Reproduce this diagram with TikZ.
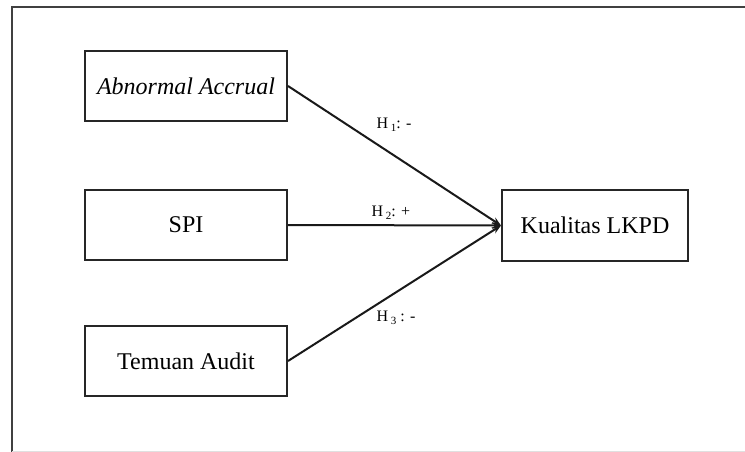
\documentclass[tikz,border=0pt]{standalone}
\usepackage{fontspec}
\setmainfont{Liberation Serif}
\usetikzlibrary{arrows.meta}
\newcommand{\hsub}[1]{\,\raisebox{-2.5pt}{\fontsize{11}{12}\selectfont #1}}
\begin{document}
\begin{tikzpicture}[x=1pt,y=-1pt,
  box/.style={draw=black!85, line width=2pt, minimum width=202pt, minimum height=70pt, inner sep=0pt, font=\fontsize{24}{28}\selectfont},
  link/.style={line width=2pt, draw=black!90, -{Stealth[length=9pt,width=7pt]}},
  hlab/.style={font=\fontsize{16}{19}\selectfont, inner sep=1pt}]
\useasboundingbox (0,0) rectangle (745,452);
\draw[line width=2pt, black!75] (760,7) -- (12,7) -- (12,460);
\draw[line width=1pt, black!12] (12,451.5) -- (760,451.5);
\node[box] (aa) at (186,86) {\itshape Abnormal Accrual};
\node[box] (spi) at (186,225) {SPI};
\node[box] (ta) at (186,361) {Temuan Audit};
\node[box, minimum width=186pt, minimum height=71pt] (kl) at (595,225.5) {Kualitas LKPD};
\coordinate (m) at (kl.west);
\draw[link] (aa.east) -- (m);
\draw[link] (spi.east) -- (m);
\draw[link] (ta.east) -- (m);
\node[hlab] (h1) at (394,125) {H\hsub{1}: -};
\node[hlab] (h2) at (391,213) {H\hsub{2}: +};
\node[hlab] (h3) at (396,318) {H\hsub{3} : -};
\end{tikzpicture}
\end{document}
